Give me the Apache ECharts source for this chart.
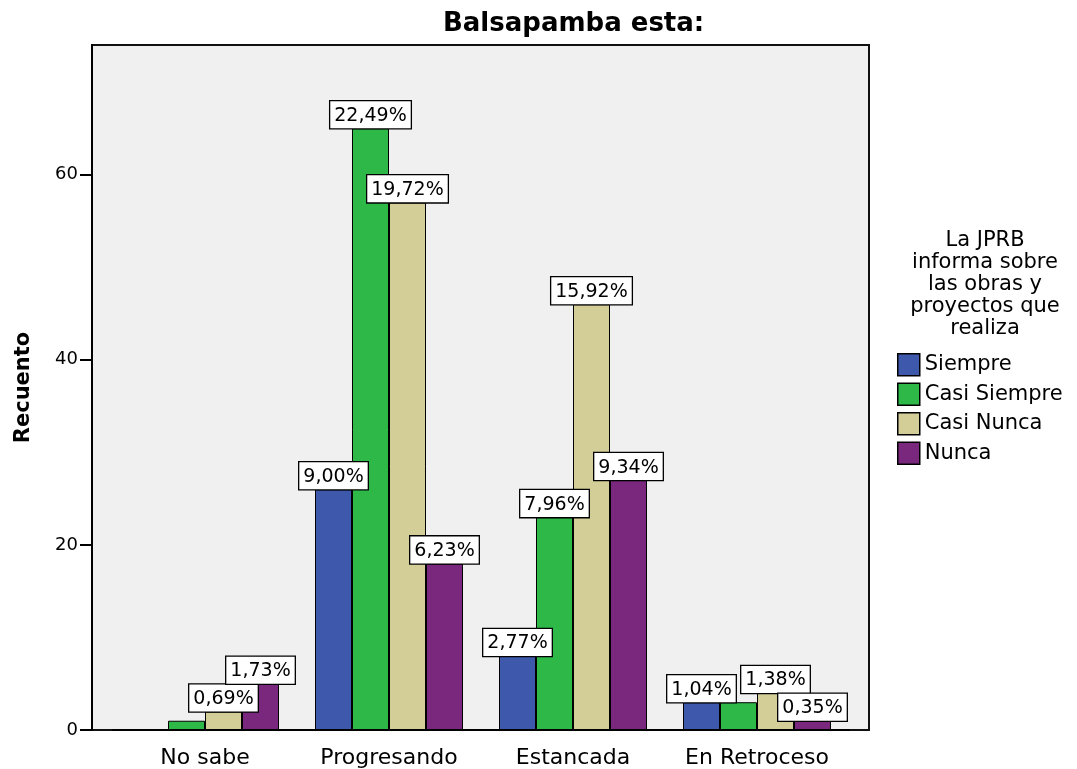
<!DOCTYPE html>
<html><head><meta charset="utf-8">
<script src="https://cdn.jsdelivr.net/npm/echarts@6/dist/echarts.min.js"></script>
<style>html,body{margin:0;padding:0;background:#fff}#c{width:1077px;height:769px}</style>
</head><body><div id="c"></div>
<script>
const categories = ['No sabe', 'Progresando', 'Estancada', 'En Retroceso'];
const seriesNames = ['Siempre', 'Casi Siempre', 'Casi Nunca', 'Nunca'];
const siempre = [0, 26, 8, 3];
const casiSiempre = [1, 65, 23, 3];
const casiNunca = [2, 57, 46, 4];
const nunca = [5, 18, 27, 1];
const yTicks = [0, 20, 40, 60];
const colors = ['#3e58ac', '#2eb848', '#d3ce97', '#7a287e'];
// labels that the original chart suppressed (overlap)
const hiddenLabels = [[1, 0], [1, 3]]; // [seriesIndex, categoryIndex]

const all = [siempre, casiSiempre, casiNunca, nunca];
const total = all.flat().reduce((a, b) => a + b, 0);
const FONT = 'DejaVu Sans';

const series = all.map((vals, si) => ({
  name: seriesNames[si],
  type: 'bar',
  barWidth: 37,
  barGap: '0%',
  itemStyle: { color: colors[si], borderColor: '#000', borderWidth: 1 },
  data: vals.map((v, ci) => {
    const hide = v === 0 || hiddenLabels.some(h => h[0] === si && h[1] === ci);
    return { value: v, label: { show: !hide } };
  }),
  label: {
    show: true, position: 'top', distance: 0,
    formatter: p => (p.value / total * 100).toFixed(2).replace('.', ',') + '%',
    fontFamily: FONT, fontSize: 19, color: '#000',
    backgroundColor: '#fff', borderColor: '#000', borderWidth: 1.3,
    padding: [5, 4, 3, 4]
  },
  z: 3
}));

const chart = echarts.init(document.getElementById('c'), null, { renderer: 'canvas' });
chart.setOption({
  animation: false,
  textStyle: { fontFamily: FONT },
  title: {
    text: 'Balsapamba esta:', left: 443, top: 11, padding: 0,
    textStyle: { fontFamily: FONT, fontWeight: 'bold', fontSize: 26, color: '#000' }
  },
  graphic: [
    { type: 'rect', z: -10, silent: true,
      shape: { x: 92, y: 45, width: 777, height: 685 },
      style: { fill: '#f0f0f0', stroke: '#111', lineWidth: 2 } },
    { type: 'text', silent: true, x: 985, y: 230,
      style: { text: 'La JPRB\ninforma sobre\nlas obras y\nproyectos que\nrealiza',
        textAlign: 'center', fontFamily: FONT, fontSize: 21, lineHeight: 22, fill: '#000' } }
  ],
  legend: {
    orient: 'vertical', left: 897, top: 353, padding: 0,
    itemWidth: 22, itemHeight: 22, itemGap: 6,
    icon: 'rect',
    itemStyle: { borderColor: '#000', borderWidth: 1.5 },
    textStyle: { fontFamily: FONT, fontSize: 21, color: '#000' },
    data: seriesNames
  },
  grid: { left: 113, right: 228, top: 45, bottom: 39, containLabel: false },
  xAxis: {
    type: 'category', data: categories,
    axisLine: { lineStyle: { color: '#000', width: 2 } },
    axisTick: { alignWithLabel: true, interval: 0, length: 11, lineStyle: { color: '#000', width: 2 } },
    axisLabel: { interval: 0, fontFamily: FONT, fontSize: 22, color: '#000', margin: 17 }
  },
  yAxis: {
    type: 'value', min: 0, max: 74, interval: 20, offset: 21,
    name: 'Recuento', nameLocation: 'middle', nameRotate: 90, nameGap: 58,
    nameTextStyle: { fontFamily: FONT, fontWeight: 'bold', fontSize: 21, color: '#000' },
    axisLine: { show: true, lineStyle: { color: '#000', width: 2 } },
    axisTick: { show: true, length: 12, lineStyle: { color: '#000', width: 2 } },
    axisLabel: { fontFamily: FONT, fontSize: 18, color: '#000', margin: 14, showMaxLabel: false,
      formatter: v => yTicks.includes(v) ? String(v) : '' },
    splitLine: { show: false }
  },
  series: series
});
</script>
</body></html>
